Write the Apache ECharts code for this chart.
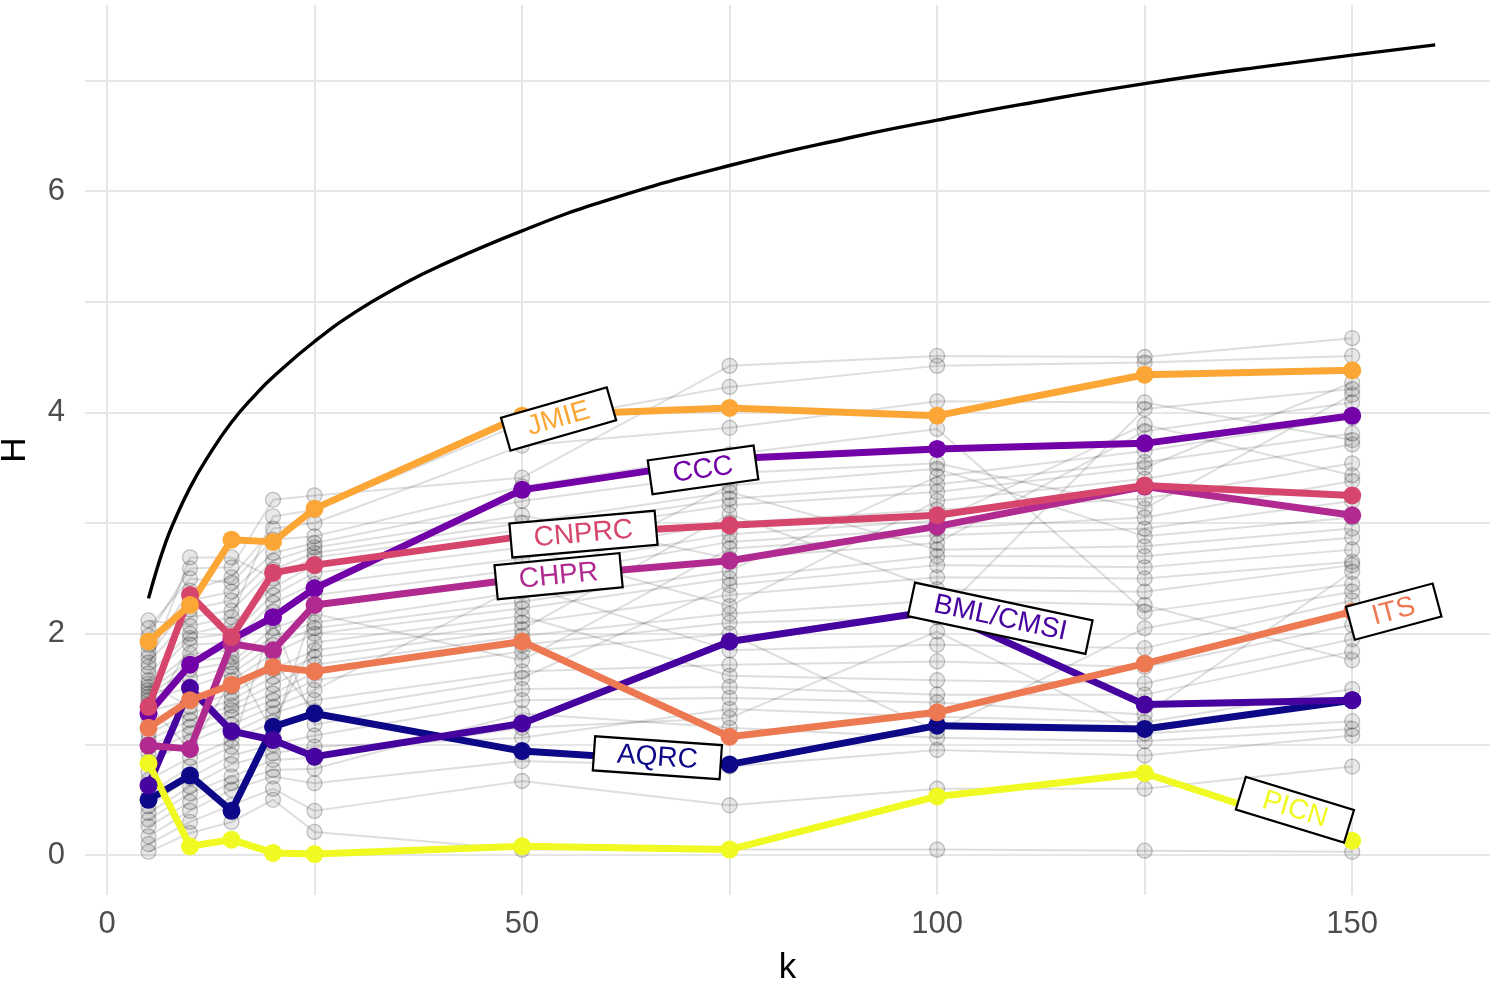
<!DOCTYPE html>
<html>
<head>
<meta charset="utf-8">
<script src="https://cdn.jsdelivr.net/npm/echarts@6/dist/echarts.min.js"></script>
<style>
html,body{margin:0;padding:0;background:#fff;}
#chart{width:1503px;height:983px;}
</style>
</head>
<body>
<div id="chart"></div>
<script>
// ---------------- data ----------------
const kValues = [5, 10, 15, 20, 25, 50, 75, 100, 125, 150];
const xGridValues = [0, 25, 50, 75, 100, 125, 150];
const xTickLabels = [0, 50, 100, 150];
const yGridValues = [0, 1, 2, 3, 4, 5, 6, 7];
const yTickLabels = [0, 2, 4, 6];

// highlighted sites
const siteNames = ['AQRC', 'BML/CMSI', 'CCC', 'CHPR', 'CNPRC', 'ITS', 'JMIE', 'PICN'];
const siteColors = ['#0D0887', '#47039F', '#7301A8', '#B12A90', '#D6456C', '#ED7953', '#FCA636', '#F0F921'];
const AQRC   = [0.50, 0.72, 0.40, 1.16, 1.28, 0.94, 0.82, 1.17, 1.14, 1.40];
const BML    = [0.63, 1.51, 1.12, 1.04, 0.89, 1.19, 1.93, 2.21, 1.36, 1.40];
const CCC    = [1.28, 1.72, 1.95, 2.15, 2.41, 3.30, 3.58, 3.67, 3.72, 3.97];
const CHPR   = [0.99, 0.96, 1.91, 1.85, 2.26, 2.50, 2.66, 2.97, 3.33, 3.07];
const CNPRC  = [1.34, 2.35, 1.97, 2.55, 2.62, 2.88, 2.98, 3.07, 3.34, 3.25];
const ITS    = [1.15, 1.40, 1.54, 1.70, 1.66, 1.93, 1.07, 1.29, 1.73, 2.20];
const JMIE   = [1.93, 2.26, 2.85, 2.83, 3.13, 3.97, 4.04, 3.97, 4.34, 4.38];
const PICN   = [0.83, 0.08, 0.14, 0.02, 0.01, 0.08, 0.05, 0.53, 0.74, 0.13];
const siteValues = [AQRC, BML, CCC, CHPR, CNPRC, ITS, JMIE, PICN];

// label anchor positions (k, H) and rotation
const labelK   = [66.3, 107.6, 71.8, 54.4, 57.4, 155.0, 54.4, 143.1];
const labelH   = [0.88, 2.14, 3.48, 2.52, 2.90, 2.20, 3.94, 0.41];
const labelRot = [-4, -12, 8, 5.5, 5, 15, 16, -17];

// other (grey) sites
const grey01 = [1.98, 2.59, 2.60, 3.21, 3.25, 3.41, 4.42, 4.51, 4.50, 4.67];
const grey02 = [2.12, 2.07, 2.15, 3.06, 3.12, 3.90, 4.23, 4.42, 4.45, 4.51];
const grey03 = [1.84, 2.39, 2.51, 2.95, 3.00, 3.70, 3.86, 4.10, 4.09, 3.75];
const grey04 = [2.05, 2.50, 2.46, 2.85, 2.88, 3.33, 3.62, 3.85, 2.20, 2.45];
const grey05 = [1.79, 2.30, 2.38, 2.73, 2.82, 3.20, 3.45, 3.54, 3.13, 4.16];
const grey06 = [1.90, 2.22, 2.30, 2.66, 2.78, 3.07, 2.68, 2.82, 3.83, 4.09];
const grey07 = [1.74, 2.15, 2.21, 2.58, 2.73, 3.00, 3.28, 2.76, 2.79, 2.95];
const grey08 = [1.70, 2.69, 2.69, 2.50, 2.69, 2.94, 3.22, 3.35, 3.55, 3.81];
const grey09 = [1.64, 2.00, 2.08, 2.42, 2.62, 2.88, 3.16, 3.28, 3.50, 4.27];
const grey10 = [1.58, 1.96, 2.00, 2.35, 2.55, 2.78, 2.25, 3.20, 3.40, 3.71];
const grey11 = [1.22, 1.90, 1.92, 2.28, 2.45, 2.68, 3.00, 3.12, 3.22, 3.54];
const grey12 = [1.52, 1.82, 1.85, 2.20, 2.35, 2.58, 2.90, 3.02, 3.89, 3.43];
const grey13 = [1.49, 1.75, 1.79, 1.10, 2.26, 2.50, 2.83, 2.95, 3.05, 3.38];
const grey14 = [1.46, 1.68, 1.74, 2.05, 2.18, 1.76, 2.77, 2.89, 2.95, 3.20];
const grey15 = [1.43, 1.60, 1.70, 1.98, 2.10, 2.38, 3.34, 3.49, 2.88, 3.05];
const grey16 = [1.40, 1.52, 1.64, 1.90, 2.05, 2.29, 2.57, 3.42, 3.65, 3.95];
const grey17 = [1.36, 0.95, 1.58, 1.82, 2.00, 2.23, 2.50, 2.70, 2.70, 2.87];
const grey18 = [1.30, 1.40, 1.52, 1.75, 1.30, 1.60, 2.44, 2.62, 2.60, 2.76];
const grey19 = [1.55, 1.34, 1.46, 1.68, 1.85, 2.10, 2.35, 2.51, 2.50, 2.65];
const grey20 = [1.10, 1.28, 1.40, 1.61, 1.79, 2.04, 3.08, 2.40, 2.38, 2.62];
const grey21 = [1.04, 1.22, 1.35, 1.54, 1.72, 1.98, 2.18, 2.30, 2.26, 1.76];
const grey22 = [0.98, 1.16, 1.31, 1.46, 1.65, 1.90, 2.10, 2.15, 4.03, 4.21];
const grey23 = [0.92, 1.10, 1.25, 1.40, 1.58, 1.84, 2.00, 1.12, 2.05, 2.38];
const grey24 = [0.85, 1.02, 1.18, 1.34, 1.49, 2.44, 1.85, 1.90, 1.87, 2.30];
const grey25 = [0.75, 1.46, 1.10, 1.28, 1.40, 1.66, 1.72, 1.75, 1.70, 2.08];
const grey26 = [0.68, 0.88, 1.04, 1.20, 1.92, 2.16, 1.62, 1.58, 1.55, 1.95];
const grey27 = [0.55, 0.80, 0.98, 2.12, 1.18, 1.50, 1.52, 1.45, 1.45, 1.84];
const grey28 = [0.44, 0.70, 0.90, 1.00, 1.08, 1.40, 1.42, 1.38, 1.27, 2.56];
const grey29 = [0.38, 0.62, 0.82, 0.92, 0.98, 1.06, 1.32, 1.25, 1.20, 1.50];
const grey30 = [0.32, 0.56, 0.71, 0.86, 0.88, 1.15, 1.24, 2.02, 1.10, 1.21];
const grey31 = [0.26, 0.48, 0.65, 0.77, 0.78, 1.28, 1.15, 1.06, 1.03, 1.14];
const grey32 = [0.17, 0.40, 0.59, 0.71, 0.65, 0.85, 0.80, 0.95, 0.90, 1.08];
const grey33 = [0.10, 0.30, 0.45, 0.60, 0.40, 0.67, 0.45, 0.60, 0.60, 0.80];
const grey34 = [0.03, 0.20, 0.30, 0.50, 0.21, 0.05, 0.05, 0.05, 0.04, 0.03];
const greySites = [grey01, grey02, grey03, grey04, grey05, grey06, grey07, grey08, grey09, grey10,
  grey11, grey12, grey13, grey14, grey15, grey16, grey17, grey18, grey19, grey20,
  grey21, grey22, grey23, grey24, grey25, grey26, grey27, grey28, grey29, grey30,
  grey31, grey32, grey33, grey34];

// maximum-entropy reference curve (k, H)
const refK = [5, 6, 7, 8, 10, 12, 15, 18, 20, 25, 30, 35, 40, 50, 60, 75, 90, 100, 110, 125, 140, 160];
const refH = [2.32, 2.58, 2.81, 3.00, 3.32, 3.58, 3.91, 4.17, 4.32, 4.64, 4.91, 5.13, 5.32, 5.64, 5.91, 6.23, 6.49, 6.64, 6.78, 6.97, 7.13, 7.32];

// ---------------- chart ----------------
const FONT = '"Liberation Sans", Arial, Helvetica, sans-serif';
const series = [];

greySites.forEach((vals, i) => {
  series.push({
    type: 'line',
    name: 'grey' + i,
    data: kValues.map((k, j) => [k, vals[j]]),
    symbol: 'circle',
    symbolSize: 15,
    lineStyle: { color: 'rgba(0,0,0,0.13)', width: 2 },
    itemStyle: { color: 'rgba(0,0,0,0.09)', borderColor: 'rgba(0,0,0,0.22)', borderWidth: 1.3 },
    z: 2,
    silent: true
  });
});

series.push({
  type: 'line',
  name: 'ref',
  data: refK.map((k, j) => [k, refH[j]]),
  smooth: true,
  symbol: 'none',
  lineStyle: { color: '#000', width: 3.4 },
  z: 3,
  silent: true
});

siteValues.forEach((vals, i) => {
  series.push({
    type: 'line',
    name: siteNames[i],
    data: kValues.map((k, j) => [k, vals[j]]),
    symbol: 'circle',
    symbolSize: 18,
    lineStyle: { color: siteColors[i], width: 7 },
    itemStyle: { color: siteColors[i] },
    z: 4,
    silent: true
  });
});

series.push({
  type: 'scatter',
  name: 'labels',
  symbolSize: 0,
  z: 6,
  silent: true,
  itemStyle: { opacity: 1 },
  data: siteNames.map((n, i) => ({
    value: [labelK[i], labelH[i]],
    itemStyle: { opacity: 1 },
    label: {
      show: true,
      position: 'inside',
      formatter: n,
      rotate: labelRot[i],
      color: siteColors[i],
      opacity: 1,
      fontSize: 28,
      fontFamily: FONT,
      backgroundColor: '#ffffff',
      borderColor: '#000',
      borderWidth: 2.2,
      padding: [3, 22, 1, 22]
    }
  }))
});

const chart = echarts.init(document.getElementById('chart'), null, { renderer: 'canvas' });
chart.setOption({
  animation: false,
  backgroundColor: '#fff',
  grid: { left: 85, right: 13, top: 5, bottom: 88, containLabel: false, outerBoundsMode: 'none' },
  xAxis: {
    type: 'value',
    min: -2.65,
    max: 166.6,
    name: 'k',
    nameLocation: 'middle',
    nameGap: 56,
    nameTextStyle: { fontSize: 35, color: '#000', fontFamily: FONT },
    axisLine: { show: false },
    axisTick: { show: false, customValues: xGridValues },
    axisLabel: { customValues: xTickLabels, fontSize: 31, color: '#4D4D4D', fontFamily: FONT, margin: 14 },
    splitLine: { show: true, lineStyle: { color: '#E6E6E6', width: 2 } }
  },
  yAxis: {
    type: 'value',
    min: -0.36,
    max: 7.68,
    name: 'H',
    nameLocation: 'middle',
    nameGap: 52,
    nameRotate: 90,
    nameTextStyle: { fontSize: 35, color: '#000', fontFamily: FONT },
    axisLine: { show: false },
    axisTick: { show: false, customValues: yGridValues },
    axisLabel: { customValues: yTickLabels, fontSize: 31, color: '#4D4D4D', fontFamily: FONT, margin: 20 },
    splitLine: { show: true, lineStyle: { color: '#E6E6E6', width: 2 } }
  },
  series: series
});
</script>
</body>
</html>
